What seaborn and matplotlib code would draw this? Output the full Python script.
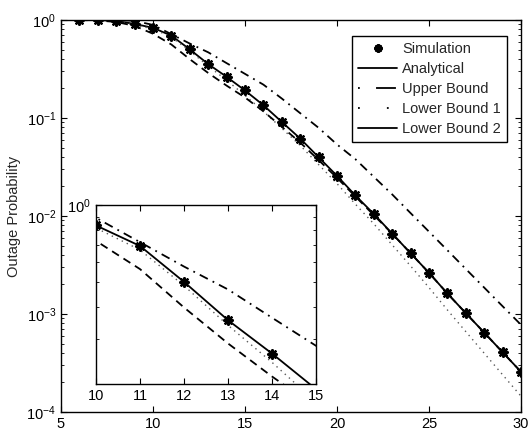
import numpy as np
import pandas as pd
import matplotlib
matplotlib.use("Agg")
import matplotlib.pyplot as plt
from matplotlib.lines import Line2D
from matplotlib.ticker import LogLocator, NullFormatter
import seaborn as sns

# ---- data ----
snr = [6, 7, 8, 9, 10, 11, 12, 13, 14, 15, 16, 17, 18, 19, 20,
       21, 22, 23, 24, 25, 26, 27, 28, 29, 30]
simulation = [1.0, 1.0, 0.977, 0.912, 0.832, 0.692, 0.501, 0.355, 0.263, 0.191,
              0.135, 0.0912, 0.0617, 0.0398, 0.0257, 0.0162, 0.0105, 0.0066,
              0.00417, 0.00263, 0.00162, 0.00102, 0.000646, 0.000407, 0.000257]
analytical = [1.0, 1.0, 0.977, 0.912, 0.832, 0.692, 0.501, 0.355, 0.263, 0.191,
              0.135, 0.0912, 0.0617, 0.0398, 0.0257, 0.0162, 0.0105, 0.0066,
              0.00417, 0.00263, 0.00162, 0.00102, 0.000646, 0.000407, 0.000257]
upper_bound = [1.0, 1.0, 1.0, 0.98, 0.891, 0.716, 0.575, 0.468, 0.363, 0.282,
               0.219, 0.158, 0.112, 0.0794, 0.0537, 0.038, 0.0251, 0.0166,
               0.0107, 0.00692, 0.00447, 0.00288, 0.00186, 0.0012, 0.000776]
lower_bound_1 = [1.0, 0.998, 0.966, 0.891, 0.813, 0.668, 0.484, 0.339, 0.243, 0.170,
                 0.117, 0.0785, 0.0525, 0.0335, 0.0214, 0.0132, 0.00832, 0.00507,
                 0.00309, 0.00186, 0.0011, 0.000661, 0.000398, 0.00024, 0.000145]
lower_bound_2 = [1.0, 0.989, 0.955, 0.871, 0.724, 0.562, 0.398, 0.288, 0.214, 0.162,
                 0.117, 0.0813, 0.0562, 0.0372, 0.0245, 0.0158, 0.0102, 0.0066,
                 0.00417, 0.00263, 0.00162, 0.00102, 0.000646, 0.000407, 0.000257]

legend_labels = ["Simulation", "Analytical", "Upper Bound", "Lower Bound 1", "Lower Bound 2"]
y_label = "Outage Probability"
main_xticks = [5, 10, 15, 20, 25, 30]
inset_xticks = [10, 11, 12, 13, 14, 15]

df = pd.DataFrame({"snr": snr, "sim": simulation, "ana": analytical,
                   "ub": upper_bound, "lb1": lower_bound_1, "lb2": lower_bound_2})

sns.set_style("ticks")
plt.rcParams["font.family"] = ["Liberation Sans", "DejaVu Sans"]
plt.rcParams["mathtext.fontset"] = "custom"
plt.rcParams["mathtext.rm"] = "Liberation Sans"
plt.rcParams["mathtext.it"] = "Liberation Sans:italic"

FS = 10.5
fig = plt.figure(figsize=(5.31, 4.33), dpi=100)
ax = fig.add_axes([61 / 531, 21 / 433, 460 / 531, 392 / 433])
axin = fig.add_axes([96 / 531, 49 / 433, 220 / 531, 179 / 433])

star = (8, 2, 0)


def draw(a):
    sns.lineplot(data=df, x="snr", y="ana", ax=a, color="black", lw=1.3, legend=False)
    sns.lineplot(data=df, x="snr", y="ub", ax=a, color="black", lw=1.3,
                 legend=False, linestyle=(0, (5, 3, 1, 3)))
    sns.lineplot(data=df, x="snr", y="lb1", ax=a, color="0.35", lw=1.0,
                 legend=False, linestyle=(0, (1, 3)))
    sns.lineplot(data=df, x="snr", y="lb2", ax=a, color="black", lw=1.3,
                 legend=False, linestyle=(0, (4.5, 3)))
    sns.scatterplot(data=df, x="snr", y="sim", ax=a, marker=star, s=38,
                    color="black", edgecolor="black", linewidth=1.7, legend=False, zorder=5)
    a.set_yscale("log")
    a.set_xlabel("")
    a.set_ylabel("")
    for sp in a.spines.values():
        sp.set_visible(True)
        sp.set_color("black")
        sp.set_linewidth(1.0)
    a.tick_params(which="both", direction="in", top=True, right=True,
                  labelsize=FS, colors="black")
    a.tick_params(which="major", length=4)
    a.tick_params(which="minor", length=2)


draw(ax)
ax.set_xlim(5, 30)
ax.set_ylim(1e-4, 1)
ax.set_xticks(main_xticks)
ax.set_xticklabels([str(t) for t in main_xticks])
ax.yaxis.set_minor_locator(LogLocator(base=10, subs=np.arange(2, 10), numticks=20))
ax.yaxis.set_minor_formatter(NullFormatter())
ax.set_ylabel(y_label, fontsize=FS, labelpad=4)

draw(axin)
axin.set_xlim(10, 15)
axin.set_ylim(0.2, 1)
axin.set_xticks(inset_xticks)
axin.set_xticklabels([str(t) for t in inset_xticks])
axin.set_yticks([1.0])
axin.set_yticklabels([r"$10^{0}$"])
axin.yaxis.set_minor_locator(LogLocator(base=10, subs=np.arange(2, 10), numticks=20))
axin.yaxis.set_minor_formatter(NullFormatter())
axin.set_facecolor("white")

handles = [
    Line2D([], [], color="black", marker=star, ms=6, mew=1.7, linestyle="none"),
    Line2D([], [], color="black", lw=1.3),
    Line2D([], [], color="black", lw=1.3, linestyle=(0, (1, 9, 10, 0))),
    Line2D([], [], color="black", lw=1.3, linestyle=(0, (1, 15))),
    Line2D([], [], color="black", lw=1.3),
]
leg = ax.legend(handles, legend_labels, loc="upper right",
                bbox_to_anchor=((507 - 61) / 460, (412 - 36) / 392),
                borderaxespad=0, fontsize=FS, frameon=True, fancybox=False,
                edgecolor="black", framealpha=1, handlelength=2.7,
                handletextpad=0.35, labelspacing=0.42, borderpad=0.4)
leg.get_frame().set_linewidth(1.0)

fig.savefig("out.png", dpi=100)
